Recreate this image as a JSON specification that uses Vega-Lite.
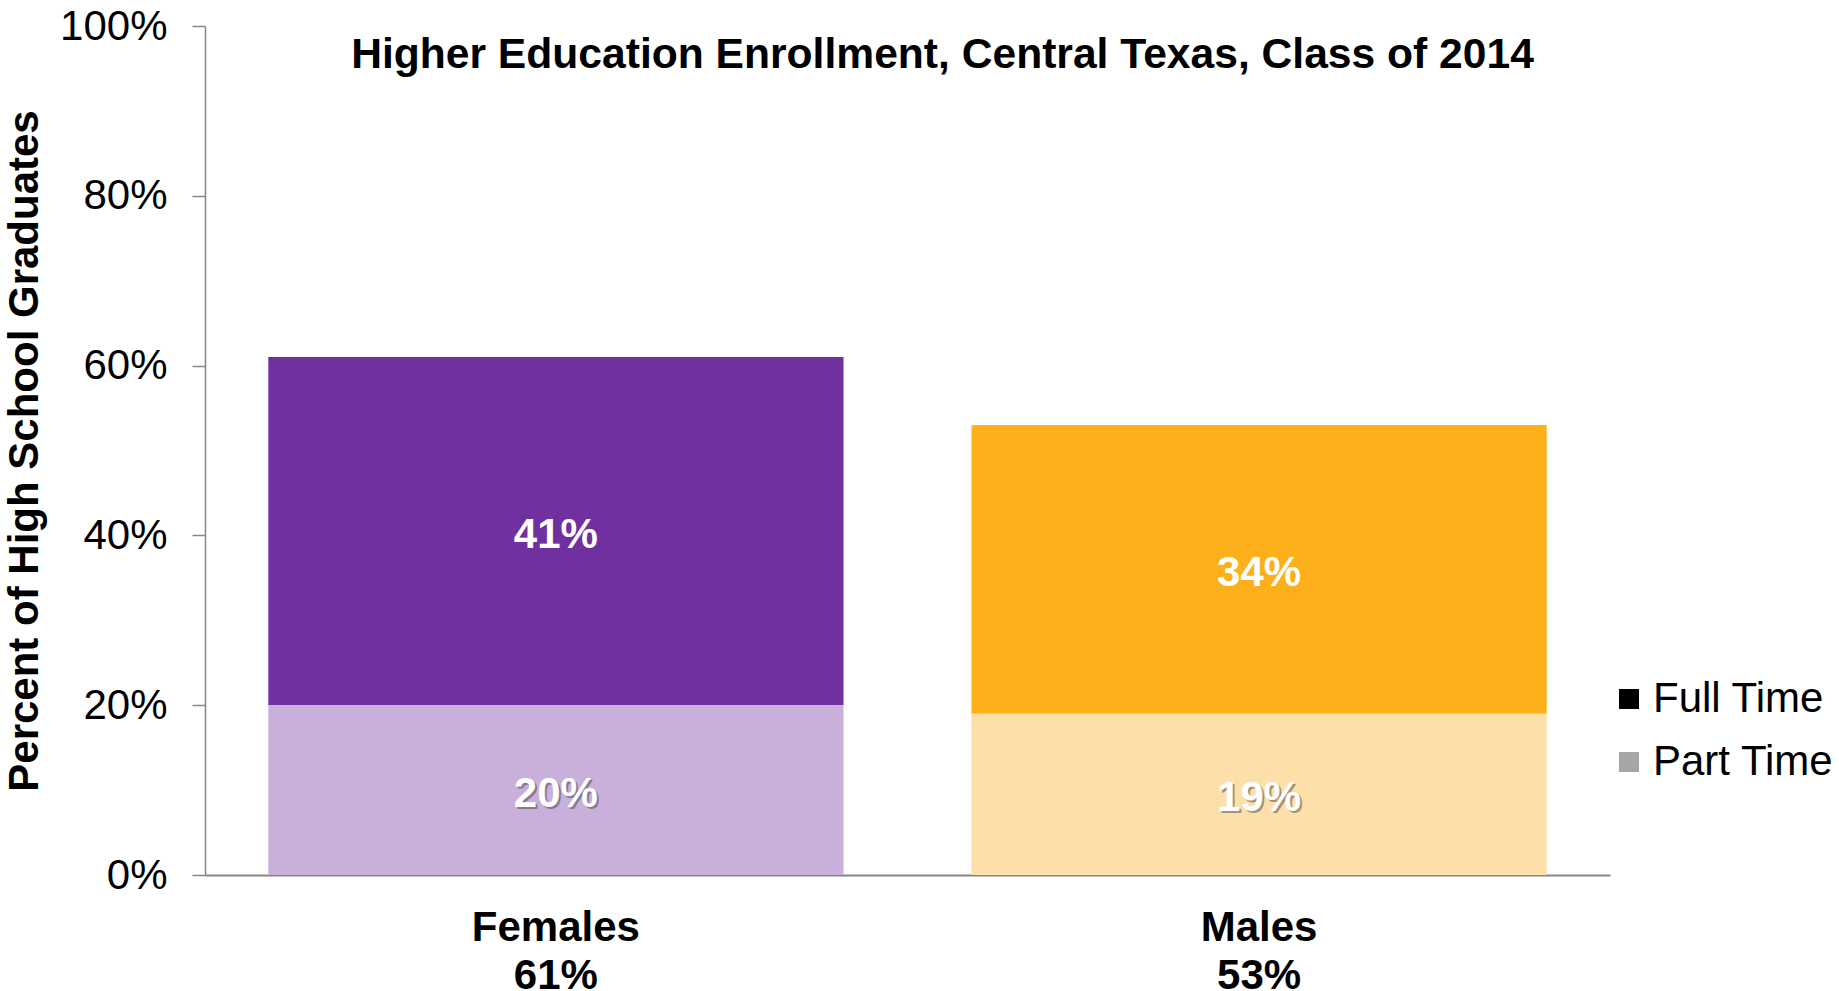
{
  "$schema": "https://vega.github.io/schema/vega-lite/v6.json",
  "width": 1405,
  "height": 849,
  "autosize": "none",
  "padding": {"left": 205, "top": 26, "right": 229, "bottom": 116},
  "background": "white",
  "config": {"font": "Liberation Sans", "view": {"stroke": null}},
  "title": {
    "text": "Higher Education Enrollment, Central Texas, Class of 2014",
    "fontSize": 42.6,
    "fontWeight": "bold",
    "color": "black",
    "anchor": "middle",
    "dx": 35,
    "baseline": "middle",
    "offset": -93
  },
  "data": {
    "values": [
      {"group": "Females", "type": "Full Time", "share": 0.41},
      {"group": "Females", "type": "Part Time", "share": 0.20},
      {"group": "Males", "type": "Full Time", "share": 0.34},
      {"group": "Males", "type": "Part Time", "share": 0.19}
    ]
  },
  "transform": [
    {"joinaggregate": [{"op": "sum", "field": "share", "as": "total"}], "groupby": ["group"]},
    {"calculate": "datum.group + '|' + format(datum.total, '.0%')", "as": "label"},
    {"calculate": "datum.group + ' ' + datum.type", "as": "segment"},
    {"stack": "share", "groupby": ["group"], "sort": [{"field": "type", "order": "descending"}], "as": ["y0", "y1"]},
    {"calculate": "(datum.y0 + datum.y1) / 2", "as": "mid"}
  ],
  "encoding": {
    "x": {
      "field": "label",
      "type": "nominal",
      "sort": null,
      "scale": {"paddingInner": 0.182, "paddingOuter": 0.09},
      "axis": {
        "title": null,
        "ticks": false,
        "domainColor": "#868686",
        "domainWidth": 2,
        "labelFontSize": 42,
        "labelFontWeight": "bold",
        "labelColor": "black",
        "labelExpr": "split(datum.label, '|')",
        "labelLineHeight": 48,
        "labelPadding": 32,
        "labelAngle": 0,
        "labelBaseline": "top"
      }
    }
  },
  "layer": [
    {
      "mark": {"type": "square"},
      "encoding": {
        "y": {"field": "mid", "type": "quantitative"},
        "size": {"value": 300},
        "fill": {
          "field": "type",
          "type": "nominal",
          "scale": {"domain": ["Full Time", "Part Time"], "range": ["#000000", "#A6A6A6"]},
          "legend": {
            "title": null,
            "orient": "none",
            "legendX": 1403,
            "legendY": 652,
            "symbolType": "square",
            "symbolSize": 400,
            "symbolOpacity": 1,
            "symbolStrokeWidth": 0,
            "labelFontSize": 42,
            "labelColor": "black",
            "labelLimit": 400,
            "labelOffset": 3,
            "rowPadding": 21,
            "padding": 0
          }
        }
      }
    },
    {
      "mark": {"type": "bar"},
      "encoding": {
        "y": {
          "field": "y0",
          "type": "quantitative",
          "scale": {"domain": [0, 1]},
          "axis": {
            "title": "Percent of High School Graduates",
            "titleFontSize": 42,
            "titleFontWeight": "bold",
            "titleColor": "black",
            "titlePadding": 13,
            "format": ".0%",
            "values": [0, 0.2, 0.4, 0.6, 0.8, 1],
            "labelFontSize": 42,
            "labelFontWeight": "normal",
            "labelColor": "black",
            "labelPadding": 25,
            "tickSize": 13,
            "tickColor": "#868686",
            "tickWidth": 1.5,
            "domainColor": "#868686",
            "domainWidth": 1.5,
            "grid": false
          }
        },
        "y2": {"field": "y1"},
        "color": {
          "field": "segment",
          "type": "nominal",
          "scale": {
            "domain": ["Females Full Time", "Females Part Time", "Males Full Time", "Males Part Time"],
            "range": ["#7030A0", "#C9B0DA", "#FDB01A", "#FDE0A9"]
          },
          "legend": null
        }
      }
    },
    {
      "transform": [{"filter": "datum.type == 'Part Time'"}],
      "mark": {"type": "text", "dx": 2, "dy": 6, "color": "#3a3a3a", "opacity": 0.45, "fontSize": 42, "fontWeight": "bold"},
      "encoding": {
        "y": {"field": "mid", "type": "quantitative"},
        "text": {"field": "share", "type": "quantitative", "format": ".0%"}
      }
    },
    {
      "mark": {"type": "text", "dy": 4, "color": "white", "fontSize": 42, "fontWeight": "bold"},
      "encoding": {
        "y": {"field": "mid", "type": "quantitative"},
        "text": {"field": "share", "type": "quantitative", "format": ".0%"}
      }
    }
  ]
}
